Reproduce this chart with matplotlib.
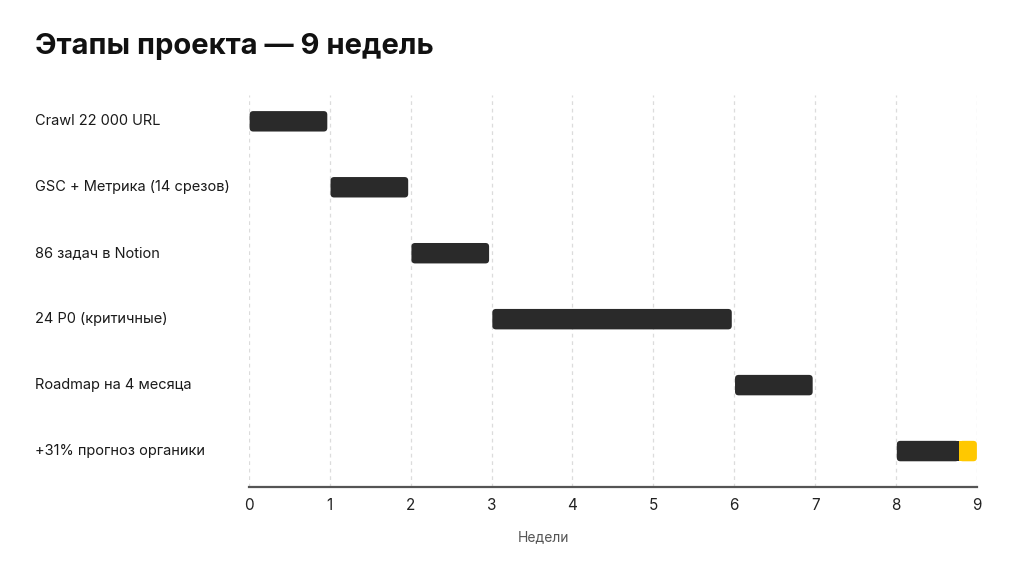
import matplotlib.pyplot as plt
from matplotlib.patches import FancyBboxPatch
import matplotlib.transforms as mtransforms

tasks = ['Crawl 22 000 URL', 'GSC + Метрика (14 срезов)', '86 задач в Notion',
         '24 P0 (критичные)', 'Roadmap на 4 месяца', '+31% прогноз органики']
starts = [0, 1, 2, 3, 6, 8]
ends = [1, 2, 3, 6, 7, 8.78]
# highlighted finish segment on the last row
hl_row = 5
hl_start = 8.78
hl_end = 9
weeks = list(range(10))

plt.rcParams['font.family'] = ['Inter', 'DejaVu Sans']

fig = plt.figure(figsize=(10.24, 5.76), dpi=100)
ax = fig.add_axes([0.243, 0.1545, 0.711, 0.68])

dark = '#2a2a2a'
yellow = '#ffc800'
h = 0.31

def rbar(x0, x1, y, color):
    p = FancyBboxPatch((x0, y - h / 2), x1 - x0, h,
                       boxstyle='round,pad=0,rounding_size=0.045',
                       mutation_aspect=1.2, fc=color, ec='none', zorder=3)
    ax.add_patch(p)

for i, (s, e) in enumerate(zip(starts, ends)):
    e2 = e - 0.03 if i != hl_row else e
    rbar(s + 0.01, e2, i, dark)
rbar(hl_start, hl_end, hl_row, yellow)
# square off the join between dark and yellow
ax.barh(hl_row, 0.06, left=hl_start - 0.03, height=h, color=dark, zorder=3)
ax.barh(hl_row, 0.05, left=hl_start, height=h, color=yellow, zorder=4)

ax.set_xlim(0, 9)
ax.set_ylim(5.545, -0.394)
ax.set_xticks(weeks)
ax.set_xticklabels([str(w) for w in weeks], fontsize=11, color='#222222')
ax.set_yticks([])
ax.tick_params(axis='x', length=0, pad=8)
for w in weeks:
    ax.axvline(w, color='#dcdcdc', lw=0.9, ls=(0, (3, 3)), zorder=1)
for s in ['top', 'right', 'left']:
    ax.spines[s].set_visible(False)
ax.spines['bottom'].set_color('#555555')
ax.spines['bottom'].set_linewidth(1.6)
ax.set_xlabel('Недели', fontsize=10, color='#555555')
ax.xaxis.set_label_coords(0.404, -0.11)

trans = mtransforms.blended_transform_factory(fig.transFigure, ax.transData)
for i, t in enumerate(tasks):
    fig.text(35 / 1024, i, t, transform=trans, ha='left', va='center',
             fontsize=10.5, color='#1a1a1a')

fig.text(35 / 1024, 1 - 46 / 576, 'Этапы проекта — 9 недель', ha='left', va='center',
         fontsize=21, fontweight='bold', color='#111111')

fig.savefig('out.png', dpi=100, facecolor='white')
